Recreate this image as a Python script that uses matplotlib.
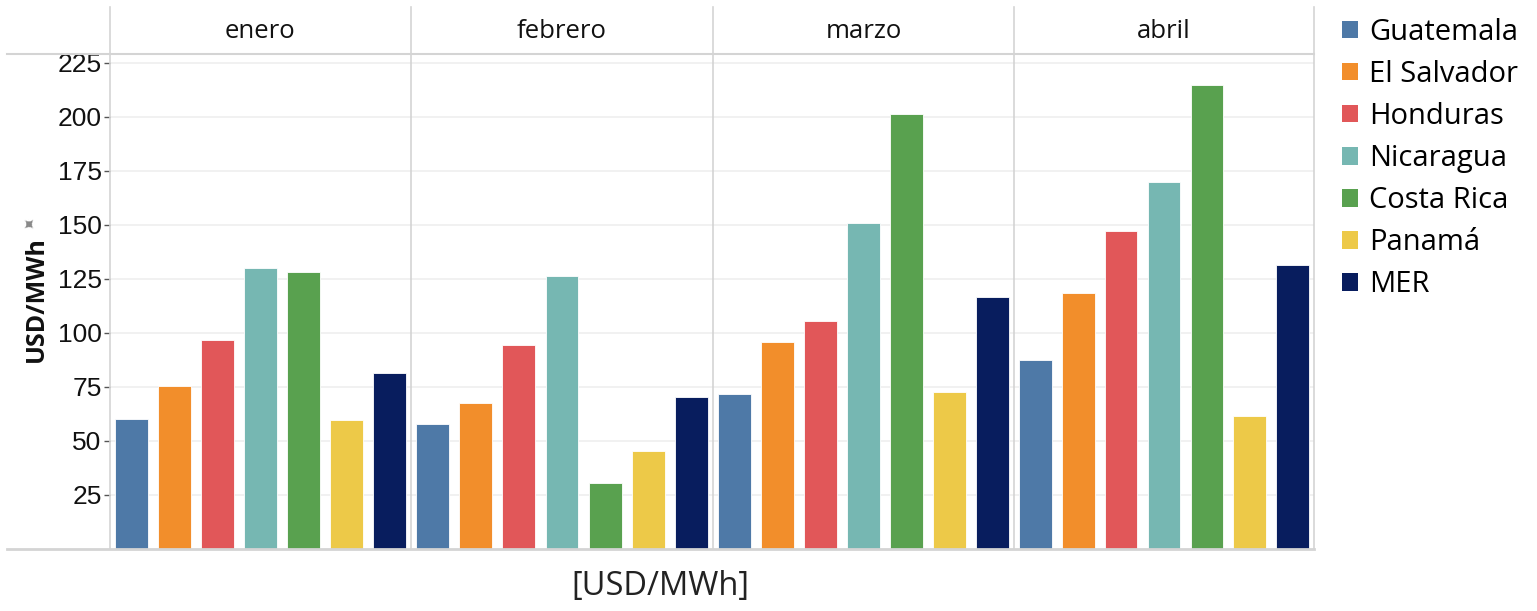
import matplotlib
matplotlib.use("Agg")
import matplotlib.pyplot as plt
from matplotlib.lines import Line2D
from matplotlib.patches import Patch

# data
months = ["enero", "febrero", "marzo", "abril"]
countries = ["Guatemala", "El Salvador", "Honduras", "Nicaragua",
             "Costa Rica", "Panamá", "MER"]
colors = ["#4e79a7", "#f28e2b", "#e15759", "#76b7b2",
          "#59a14f", "#edc948", "#081d5e"]
enero = [60.3, 75.6, 96.6, 130.1, 128.1, 59.7, 81.6]
febrero = [57.9, 67.4, 94.4, 126.4, 30.4, 45.4, 70.5]
marzo = [71.6, 95.7, 105.7, 151.0, 201.2, 72.5, 116.5]
abril = [87.6, 118.7, 147.0, 169.8, 214.8, 61.4, 131.5]
values = [enero, febrero, marzo, abril]
yticks = [25, 50, 75, 100, 125, 150, 175, 200, 225]

W, H = 1537, 611
fig = plt.figure(figsize=(W / 100, H / 100), dpi=100)

def fx(px):
    return px / W

def fy(py):
    return 1 - py / H

panel_x = [110, 411, 713, 1014, 1314]
top, base = 54, 549
grid_col = "#d4d4d4"

axes = []
for i, month in enumerate(months):
    x0, x1 = panel_x[i], panel_x[i + 1]
    ax = fig.add_axes([fx(x0), fy(base), fx(x1 - x0), (base - top) / H])
    ax.bar(range(len(countries)), values[i], width=0.76, color=colors,
           edgecolor="white", linewidth=0.6)
    ax.set_xlim(-0.5, len(countries) - 0.5)
    ax.set_ylim(0, (base - top) / 2.16)
    ax.set_yticks(yticks)
    ax.grid(axis="y", color="#efefef", linewidth=1.2)
    ax.set_axisbelow(True)
    ax.set_xticks([])
    for s in ax.spines.values():
        s.set_visible(False)
    if i == 0:
        ax.tick_params(axis="y", length=4, width=1, color="#555555",
                       labelsize=19, pad=2, labelcolor="#111111")
        for lab in ax.get_yticklabels():
            lab.set_fontfamily("Liberation Sans")
    else:
        ax.tick_params(axis="y", length=0, labelleft=False)
    # month header
    fig.text(fx((x0 + x1) / 2), fy(31), month, ha="center", va="center",
             fontsize=18.5, family="Open Sans", color="#111111")
    axes.append(ax)

# panel frame lines (header band, separators, baseline)
for px in panel_x:
    fig.add_artist(Line2D([fx(px), fx(px)], [fy(7), fy(base)],
                          color=grid_col, linewidth=1.2))
fig.add_artist(Line2D([fx(7), fx(1314)], [fy(top), fy(top)],
                      color=grid_col, linewidth=1.5))
fig.add_artist(Line2D([fx(7), fx(1314)], [fy(base), fy(base)],
                      color=grid_col, linewidth=2))

# axis titles
fig.text(fx(36), fy(299), "USD/MWh", rotation=90, ha="center", va="center",
         fontsize=18, fontweight="bold", family="Open Sans", color="#111111")
fig.text(fx(30), fy(225), "✦", rotation=45, ha="center", va="center",
         fontsize=12, color="#888888", family="DejaVu Sans")
fig.text(fx(660), fy(587), "[USD/MWh]", ha="center", va="center",
         fontsize=23.5, family="Open Sans", color="#222222")

# legend
handles = [Patch(facecolor=c, edgecolor="none") for c in colors]
fig.legend(handles, countries, loc="upper left",
           bbox_to_anchor=(fx(1330), fy(6)), frameon=False,
           prop={"family": "Open Sans", "size": 21},
           handlelength=0.55, handleheight=0.55, handletextpad=0.4,
           labelspacing=0.45, borderaxespad=0)

fig.savefig("out.png", dpi=100)
